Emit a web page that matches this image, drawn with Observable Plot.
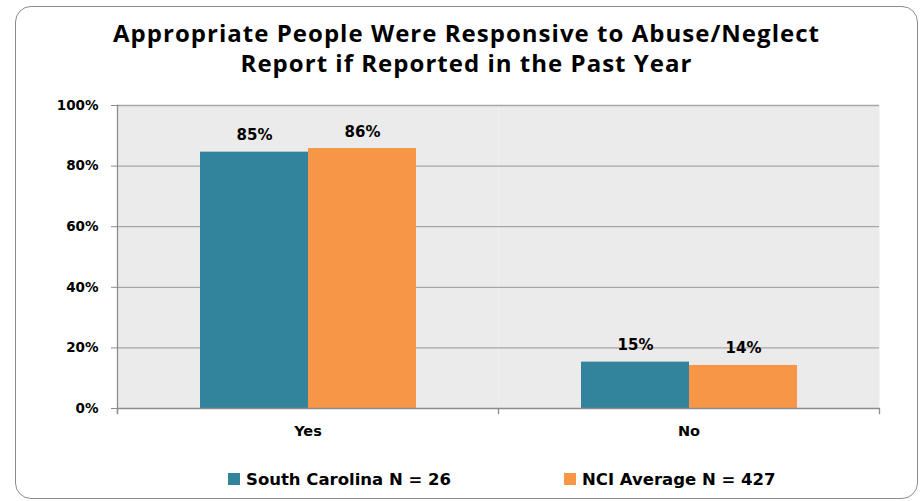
<!DOCTYPE html>
<html><head><meta charset="utf-8">
<script src="https://cdn.jsdelivr.net/npm/d3@7"></script>
<script src="https://cdn.jsdelivr.net/npm/@observablehq/plot@0.6"></script>
<style>
body{margin:0;background:#fff;}
#wrap{position:relative;width:924px;height:501px;overflow:hidden;font-family:"DejaVu Sans",sans-serif;color:#000;}
#border{position:absolute;left:15px;top:6px;width:903px;height:493px;border:1.6px solid #8c8c8c;border-radius:16px;box-sizing:border-box;}
.tl{position:absolute;left:0;width:933px;text-align:center;font-family:"Open Sans";font-weight:bold;font-size:24px;line-height:30px;white-space:nowrap;}
.tl span{display:inline-block;}
#chart{position:absolute;left:0;top:0;}
.sw{position:absolute;top:473px;width:12px;height:12px;}
.lg{position:absolute;top:470px;font-family:"DejaVu Sans";font-weight:bold;font-size:16.5px;line-height:normal;white-space:nowrap;}
</style></head>
<body>
<div id="wrap">
  <div id="border"></div>
  <div class="tl" id="t1" style="top:18px"><span></span></div>
  <div class="tl" id="t2" style="top:48px"><span></span></div>
  <div id="chart"></div>
  <div class="sw" id="sw0" style="left:228px"></div>
  <div class="lg" id="lg0" style="left:246px"></div>
  <div class="sw" id="sw1" style="left:564px"></div>
  <div class="lg" id="lg1" style="left:582px"></div>
</div>
<script>
const titleLines = ["Appropriate People Were Responsive to Abuse/Neglect", "Report if Reported in the Past Year"];
const categories = ["Yes", "No"];
const series = ["South Carolina N = 26", "NCI Average N = 427"];
const southCarolina = [84.6, 15.3];
const nciAverage = [85.8, 14.2];
const yTicks = [0, 20, 40, 60, 80, 100];
const colors = ["#31849B", "#F79646"];

// title: fixed size, letter-spacing fitted to the reference line width
const s1 = document.querySelector("#t1 span"), s2 = document.querySelector("#t2 span");
s1.textContent = titleLines[0]; s2.textContent = titleLines[1];
const w = s1.getBoundingClientRect().width;
const ls = (707 - w) / titleLines[0].length;
document.querySelectorAll(".tl").forEach(el => el.style.letterSpacing = ls + "px");

// legend
series.forEach((s, i) => {
  document.getElementById("sw" + i).style.background = colors[i];
  document.getElementById("lg" + i).textContent = s;
});

const rows = categories.flatMap((c, i) => [
  {cat: c, series: series[0], value: southCarolina[i]},
  {cat: c, series: series[1], value: nciAverage[i]}
]);

const gridColor = "#A6A6A6", axisColor = "#8C8C8C";
const chart = Plot.plot({
  width: 924, height: 501,
  marginTop: 105, marginBottom: 93, marginLeft: 116, marginRight: 45,
  style: {background: "transparent", fontFamily: "DejaVu Sans", color: "#000"},
  fx: {domain: categories, padding: 0, label: null},
  x: {domain: series, paddingInner: 0, paddingOuter: 0.758, axis: null},
  y: {domain: [0, 100], label: null, axis: null},
  color: {domain: series, range: colors},
  marks: [
    Plot.frame({fill: "#EBEBEB", stroke: "none"}),
    Plot.ruleY(yTicks.slice(1), {stroke: gridColor, strokeWidth: 1.3}),
    Plot.barY(rows, {fx: "cat", x: "series", y: "value", fill: "series"}),
    Plot.text(rows, {fx: "cat", x: "series", y: "value", text: d => Math.round(d.value) + "%",
      dy: -12, lineAnchor: "bottom", fontSize: 15, fontWeight: "bold", fill: "#000"}),
    Plot.ruleY([0], {stroke: axisColor, strokeWidth: 1.3}),
    Plot.frame({anchor: "left", facetAnchor: "left", stroke: axisColor, strokeWidth: 1.3, insetBottom: -5}),
    Plot.frame({anchor: "left", stroke: axisColor, strokeWidth: 1.3, insetTop: 303, insetBottom: -5}),
    Plot.frame({anchor: "right", facetAnchor: "right", stroke: axisColor, strokeWidth: 1.3, insetTop: 303, insetBottom: -5}),
    Plot.axisY({ticks: yTicks, tickFormat: d => d + "%", tickSize: 6, tickPadding: 13,
      stroke: axisColor, fill: "#000", fontSize: 13.5, fontWeight: "bold", label: null}),
    Plot.axisFx({anchor: "bottom", tickSize: 0, tickPadding: 17, fontSize: 14.5, fontWeight: "bold", fill: "#000", label: null})
  ]
});
document.getElementById("chart").appendChild(chart);
</script>
</body></html>
